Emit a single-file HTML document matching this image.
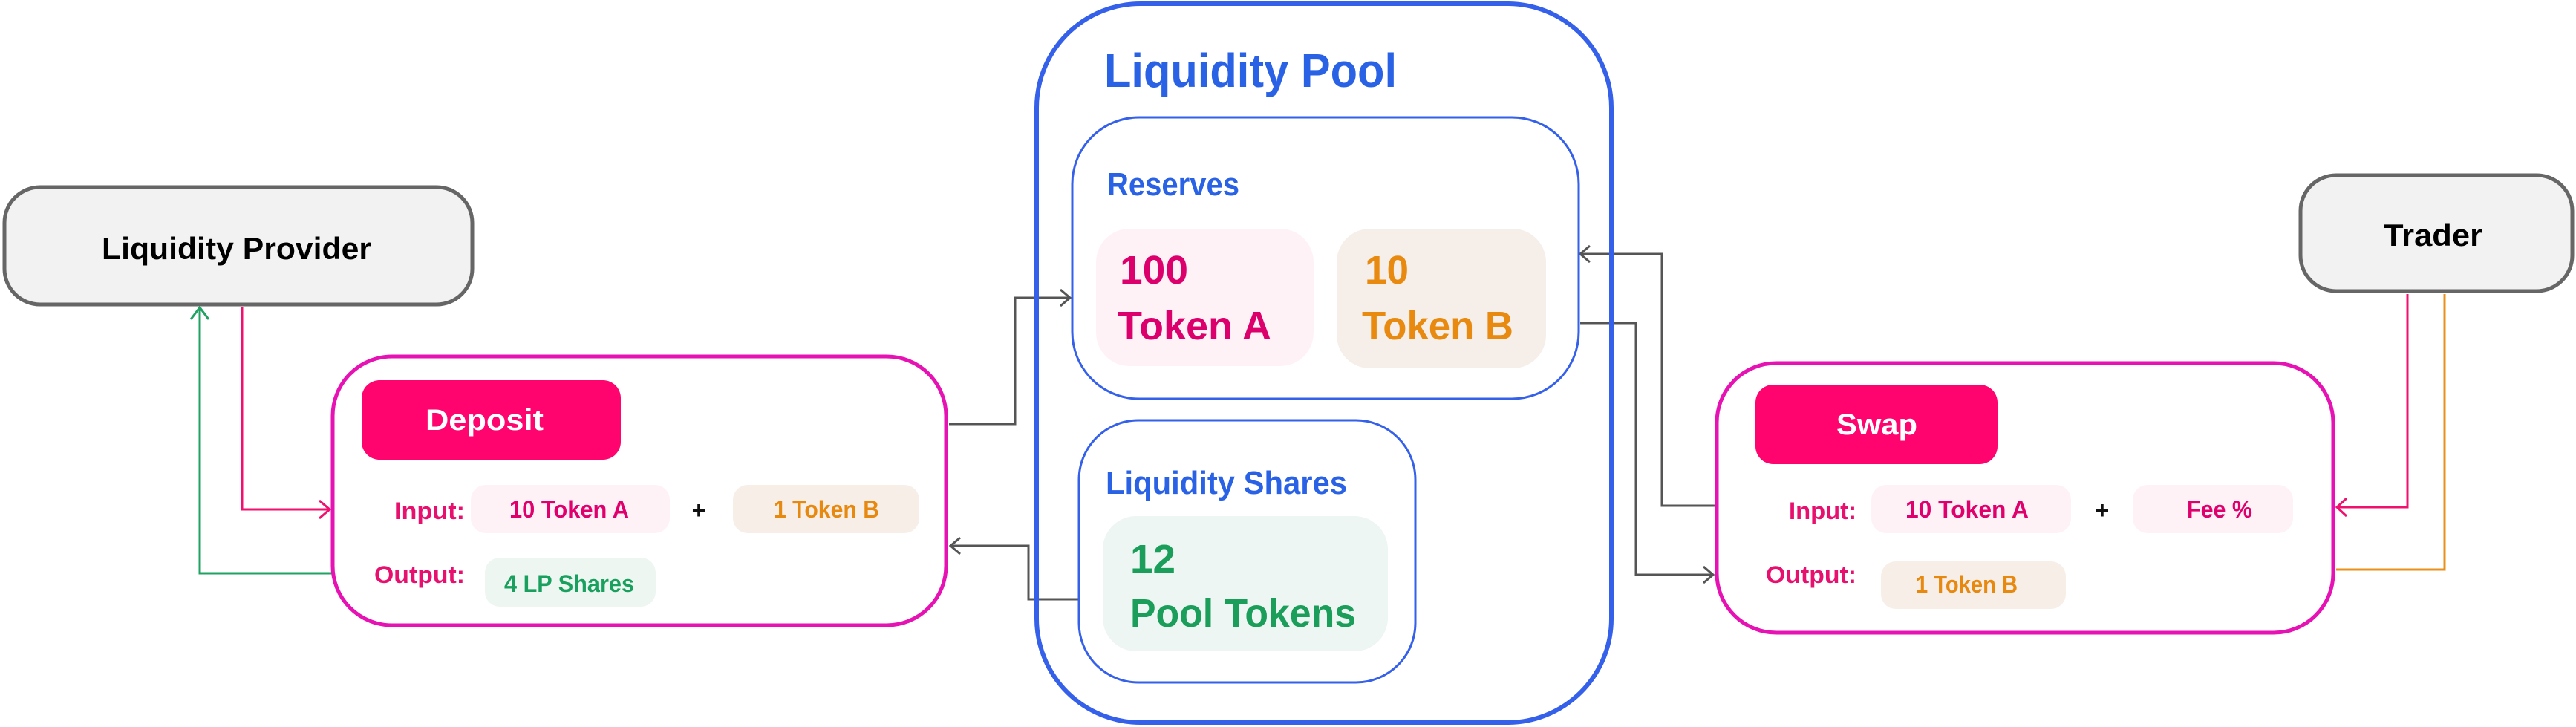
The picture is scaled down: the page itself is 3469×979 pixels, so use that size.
<!DOCTYPE html>
<html><head><meta charset="utf-8"><style>
html,body{margin:0;padding:0;background:#fff;}
svg{display:block;}
text{font-family:"Liberation Sans",sans-serif;font-weight:bold;}
</style></head><body>
<svg width="3469" height="979" viewBox="0 0 3469 979" xmlns="http://www.w3.org/2000/svg">
<rect width="3469" height="979" fill="#fff"/>
<!-- connectors -->
<g fill="none" stroke-width="3">
  <!-- LP green up -->
  <polyline points="448,772 269,772 269,414" stroke="#1fa362"/>
  <polyline points="257,430 269,414 281,430" stroke="#1fa362"/>
  <!-- LP pink down -->
  <polyline points="326,414 326,686 444,686" stroke="#f0106e"/>
  <polyline points="430,674 444,686 430,698" stroke="#f0106e"/>
  <!-- deposit to reserves -->
  <polyline points="1278,571 1367,571 1367,401 1440,401" stroke="#555"/>
  <polyline points="1428,390 1441,401 1428,412" stroke="#555"/>
  <!-- liquidity shares to deposit -->
  <polyline points="1453,807 1385,807 1385,735 1281,735" stroke="#555"/>
  <polyline points="1293,724 1280,735 1293,746" stroke="#555"/>
  <!-- swap input to reserves -->
  <polyline points="2310,681 2238,681 2238,342 2129,342" stroke="#555"/>
  <polyline points="2141,331 2128,342 2141,353" stroke="#555"/>
  <!-- reserves to swap output -->
  <polyline points="2128,435 2203,435 2203,774 2306,774" stroke="#555"/>
  <polyline points="2294,763 2307,774 2294,785" stroke="#555"/>
  <!-- trader pink -->
  <polyline points="3242,396 3242,683 3148,683" stroke="#f0106e"/>
  <polyline points="3160,671 3147,683 3160,695" stroke="#f0106e"/>
  <!-- trader orange -->
  <polyline points="3292,396 3292,767 3146,767" stroke="#e8901c"/>
</g>

<!-- Liquidity Provider -->
<rect x="6" y="252" width="630" height="158" rx="48" fill="#f2f2f2" stroke="#666" stroke-width="5"/>
<text x="137" y="349" font-size="42" fill="#000" textLength="363" lengthAdjust="spacingAndGlyphs">Liquidity Provider</text>

<!-- Trader -->
<rect x="3098" y="236" width="366" height="156" rx="48" fill="#f2f2f2" stroke="#666" stroke-width="5"/>
<text x="3210" y="331" font-size="42" fill="#000" textLength="133" lengthAdjust="spacingAndGlyphs">Trader</text>

<!-- Deposit -->
<rect x="448" y="480" width="826" height="362" rx="80" fill="#fff" stroke="#e612b4" stroke-width="5"/>
<rect x="487" y="512" width="349" height="107" rx="24" fill="#ff036e"/>
<text x="573" y="579" font-size="40" fill="#fff" textLength="159" lengthAdjust="spacingAndGlyphs">Deposit</text>
<text x="531" y="699" font-size="32" fill="#e8106e" textLength="95" lengthAdjust="spacingAndGlyphs">Input:</text>
<rect x="634" y="653" width="268" height="65" rx="20" fill="#fff2f6"/>
<text x="686" y="697" font-size="32" fill="#e0006d" textLength="161" lengthAdjust="spacingAndGlyphs">10 Token A</text>
<text x="941" y="698" font-size="32" fill="#111" text-anchor="middle" font-weight="normal">+</text>
<rect x="987" y="653" width="251" height="65" rx="20" fill="#f7eee8"/>
<text x="1042" y="697" font-size="32" fill="#e8890f" textLength="142" lengthAdjust="spacingAndGlyphs">1 Token B</text>
<text x="504" y="785" font-size="32" fill="#e8106e" textLength="122" lengthAdjust="spacingAndGlyphs">Output:</text>
<rect x="653" y="751" width="230" height="66" rx="20" fill="#edf6f1"/>
<text x="679" y="797" font-size="32" fill="#1aa05e" textLength="175" lengthAdjust="spacingAndGlyphs">4 LP Shares</text>

<!-- Swap -->
<rect x="2312" y="489" width="830" height="363" rx="80" fill="#fff" stroke="#e612b4" stroke-width="5"/>
<rect x="2364" y="518" width="326" height="107" rx="24" fill="#ff036e"/>
<text x="2473" y="585" font-size="40" fill="#fff" textLength="109" lengthAdjust="spacingAndGlyphs">Swap</text>
<text x="2409" y="699" font-size="32" fill="#e8106e" textLength="91" lengthAdjust="spacingAndGlyphs">Input:</text>
<rect x="2520" y="653" width="269" height="65" rx="20" fill="#fff2f6"/>
<text x="2566" y="697" font-size="32" fill="#e0006d" textLength="166" lengthAdjust="spacingAndGlyphs">10 Token A</text>
<text x="2831" y="698" font-size="32" fill="#111" text-anchor="middle" font-weight="normal">+</text>
<rect x="2872" y="653" width="216" height="65" rx="20" fill="#fff2f6"/>
<text x="2945" y="697" font-size="32" fill="#e0006d" textLength="88" lengthAdjust="spacingAndGlyphs">Fee %</text>
<text x="2378" y="785" font-size="32" fill="#e8106e" textLength="122" lengthAdjust="spacingAndGlyphs">Output:</text>
<rect x="2533" y="756" width="249" height="64" rx="20" fill="#f7eee8"/>
<text x="2580" y="798" font-size="32" fill="#e8890f" textLength="137" lengthAdjust="spacingAndGlyphs">1 Token B</text>

<!-- Liquidity Pool -->
<rect x="1396" y="5" width="774" height="968" rx="140" fill="none" stroke="#3560ea" stroke-width="6"/>
<text x="1487" y="117" font-size="64" fill="#2a62e6" textLength="394" lengthAdjust="spacingAndGlyphs">Liquidity Pool</text>

<rect x="1444" y="158" width="682" height="379" rx="90" fill="#fff" stroke="#3560ea" stroke-width="3"/>
<text x="1491" y="263" font-size="44" fill="#2a62e6" textLength="178" lengthAdjust="spacingAndGlyphs">Reserves</text>
<rect x="1476" y="308" width="293" height="185" rx="45" fill="#fff2f6"/>
<text x="1508" y="382" font-size="54" fill="#dc006c" textLength="92" lengthAdjust="spacingAndGlyphs">100</text>
<text x="1505" y="457" font-size="54" fill="#dc006c" textLength="207" lengthAdjust="spacingAndGlyphs">Token A</text>
<rect x="1800" y="308" width="282" height="188" rx="45" fill="#f6eee8"/>
<text x="1838" y="382" font-size="54" fill="#e88a0f" textLength="59" lengthAdjust="spacingAndGlyphs">10</text>
<text x="1834" y="457" font-size="54" fill="#e88a0f" textLength="204" lengthAdjust="spacingAndGlyphs">Token B</text>

<rect x="1453" y="566" width="453" height="353" rx="80" fill="#fff" stroke="#3560ea" stroke-width="3"/>
<text x="1489" y="665" font-size="44" fill="#2a62e6" textLength="325" lengthAdjust="spacingAndGlyphs">Liquidity Shares</text>
<rect x="1485" y="695" width="384" height="182" rx="45" fill="#edf6f2"/>
<text x="1522" y="771" font-size="54" fill="#1a9e5a" textLength="61" lengthAdjust="spacingAndGlyphs">12</text>
<text x="1522" y="844" font-size="54" fill="#1a9e5a" textLength="304" lengthAdjust="spacingAndGlyphs">Pool Tokens</text>
</svg>
</body></html>
